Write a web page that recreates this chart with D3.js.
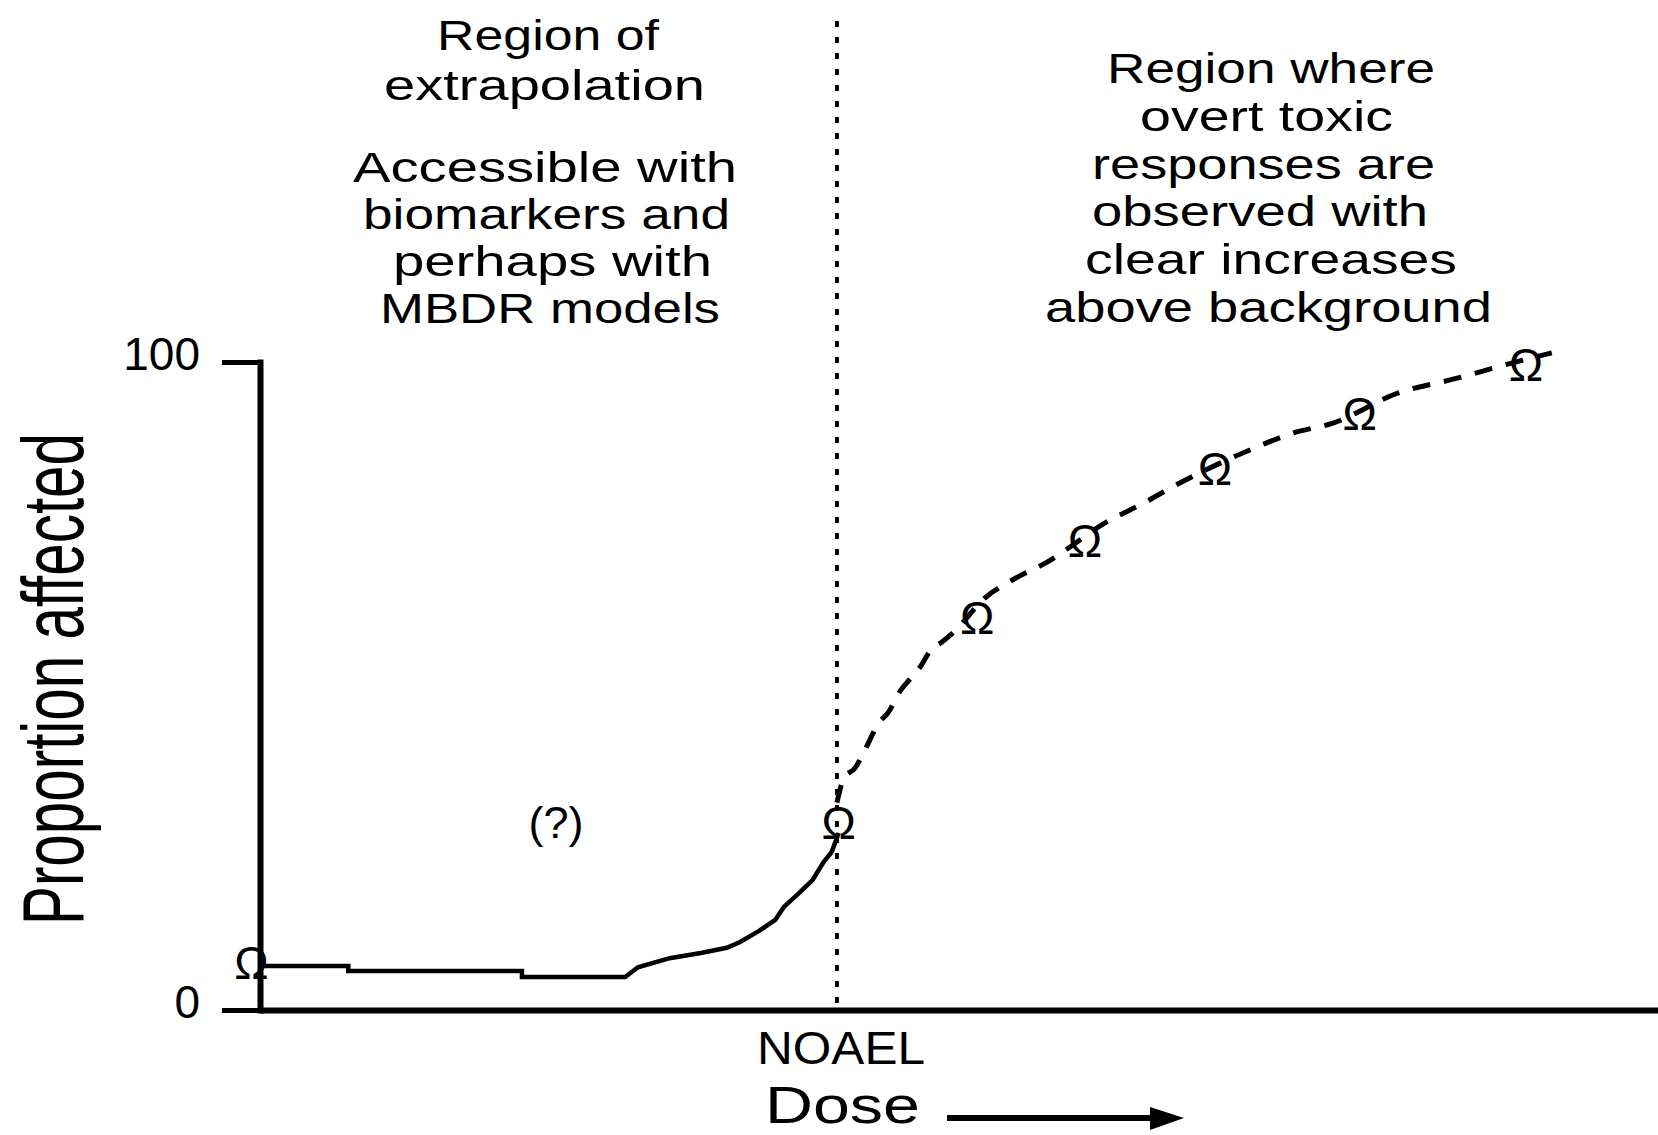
<!DOCTYPE html>
<html>
<head>
<meta charset="utf-8">
<script src="https://cdn.jsdelivr.net/npm/d3@7"></script>
<style>
  html, body { margin: 0; padding: 0; background: #fff; }
  svg { display: block; }
  text { font-family: "Liberation Sans", Arial, sans-serif; fill: #000; }
</style>
</head>
<body>
<script>
// ---------- data ----------
const yTickValues = [0, 100];
const noaelDose = 10;
const doseMax = 24.3;

// extrapolated low-dose curve (solid)
const lowDose = [0.05, 1.53, 1.53, 4.54, 4.54, 6.33, 6.55, 7.10, 7.64, 8.09, 8.32, 8.65, 8.93, 9.08, 9.36, 9.58, 9.76, 9.91, 10.03];
const lowResp = [6.8, 6.8, 6.0, 6.0, 5.1, 5.1, 6.6, 8.0, 8.8, 9.6, 10.5, 12.2, 13.9, 15.9, 18.2, 20.1, 22.7, 24.4, 27.3];

// observed-region curve (dashed)
const highDose = [10.0, 10.12, 10.31, 10.5, 10.73, 10.88, 11.11, 11.25, 11.44, 11.63, 11.82, 12.01, 12.58, 13.05, 13.62, 14.71, 15.29, 15.81, 17.23, 17.89, 18.61, 19.69, 20.75, 21.68, 22.39];
const highResp = [32.0, 35.8, 37.3, 40.4, 44.4, 45.8, 49.4, 50.9, 52.9, 55.6, 56.8, 58.2, 63.7, 66.4, 69.0, 75.5, 78.1, 80.7, 86.7, 89.0, 90.6, 95.1, 97.5, 99.8, 101.4];

// observed data points (Ω markers)
const pointDose = [-0.15, 10.03, 12.43, 14.30, 16.55, 19.06, 21.94];
const pointResp = [7.3, 29.0, 60.6, 72.4, 83.5, 92.0, 99.7];

// text
const leftLines = ["Region of", "extrapolation", "Accessible with", "biomarkers and", "perhaps with", "MBDR models"];
const rightLines = ["Region where", "overt toxic", "responses are", "observed with", "clear increases", "above background"];
const yLabel = "Proportion affected";
const xLabel = "Dose";
const noaelLabel = "NOAEL";
const unknownLabel = "(?)";
const markerSymbol = "\u03A9";

// ---------- drawing ----------
const W = 1658, H = 1135;
const svg = d3.select("body").append("svg").attr("width", W).attr("height", H);

const x = d3.scaleLinear().domain([0, doseMax]).range([260, 1662]);
const y = d3.scaleLinear().domain([0, 100]).range([1010, 362]);

// NOAEL dotted line
svg.append("line")
  .attr("x1", x(noaelDose)).attr("x2", x(noaelDose))
  .attr("y1", 21).attr("y2", y(0))
  .attr("stroke", "#000").attr("stroke-width", 4)
  .attr("stroke-dasharray", "6,10");

// x axis
const xAxis = d3.axisBottom(x).tickValues([]).tickSizeOuter(0);
const gx = svg.append("g").attr("transform", `translate(0,${y(0)})`).call(xAxis);
gx.select(".domain").attr("stroke", "#000").attr("stroke-width", 6);

// y axis
const yAxis = d3.axisLeft(y).tickValues(yTickValues).tickSizeInner(38).tickSizeOuter(0).tickPadding(22)
  .tickFormat(d3.format("d"));
const gy = svg.append("g").attr("transform", `translate(${x(0)},0)`).call(yAxis);
gy.select(".domain").attr("stroke", "#000").attr("stroke-width", 6).attr("stroke-linecap", "square");
gy.selectAll(".tick line").attr("stroke", "#000").attr("stroke-width", 5);
gy.selectAll(".tick text")
  .attr("font-family", "'Liberation Sans', Arial, sans-serif")
  .attr("font-size", 46).attr("dy", "0.17em").attr("fill", "#000");

// NOAEL label
svg.append("text")
  .attr("x", 841).attr("y", 1064)
  .attr("text-anchor", "middle").attr("font-size", 46)
  .attr("textLength", 168).attr("lengthAdjust", "spacingAndGlyphs")
  .text(noaelLabel);

// Dose label + arrow
svg.append("text")
  .attr("x", 842.5).attr("y", 1123)
  .attr("text-anchor", "middle").attr("font-size", 52)
  .attr("textLength", 155).attr("lengthAdjust", "spacingAndGlyphs")
  .text(xLabel);
svg.append("line").attr("x1", 947).attr("x2", 1160).attr("y1", 1118).attr("y2", 1118)
  .attr("stroke", "#000").attr("stroke-width", 6);
svg.append("path").attr("d", "M1150,1107 L1184,1118 L1150,1130 Z").attr("fill", "#000");

// y label
svg.append("text")
  .attr("transform", "translate(83,679) rotate(-90)")
  .attr("text-anchor", "middle").attr("font-size", 88)
  .attr("textLength", 492).attr("lengthAdjust", "spacingAndGlyphs")
  .text(yLabel);

// curves
const lowData = lowDose.map((d, i) => [d, lowResp[i]]);
const highData = highDose.map((d, i) => [d, highResp[i]]);
const line = d3.line().x(d => x(d[0])).y(d => y(d[1]));
svg.append("path").datum(lowData).attr("d", line)
  .attr("fill", "none").attr("stroke", "#000").attr("stroke-width", 4.5);
svg.append("path").datum(highData).attr("d", line.curve(d3.curveMonotoneX))
  .attr("fill", "none").attr("stroke", "#000").attr("stroke-width", 5)
  .attr("stroke-dasharray", "18,14");

// markers
svg.selectAll("text.marker").data(pointDose.map((d, i) => [d, pointResp[i]]))
  .enter().append("text").attr("class", "marker")
  .attr("x", d => x(d[0])).attr("y", d => y(d[1]))
  .attr("dy", "0.36em").attr("text-anchor", "middle")
  .attr("font-size", 46)
  .text(markerSymbol);

// (?) label
svg.append("text")
  .attr("x", 556).attr("y", 838)
  .attr("text-anchor", "middle").attr("font-size", 45)
  .text(unknownLabel);

// annotation blocks
const leftLayout = [[548, 50, 222], [544.5, 100, 321], [545, 182, 384], [546.5, 229, 367], [552.5, 276, 319], [550, 323, 340]];
const rightLayout = [[1271, 83, 328], [1266.5, 131, 253], [1263.5, 179, 343], [1260, 226, 336], [1271, 274, 372], [1268.5, 322, 447]];

function block(lines, layout) {
  svg.append("g").selectAll("text").data(lines).enter().append("text")
    .attr("x", (d, i) => layout[i][0])
    .attr("y", (d, i) => layout[i][1])
    .attr("text-anchor", "middle")
    .attr("font-size", 42)
    .attr("textLength", (d, i) => layout[i][2])
    .attr("lengthAdjust", "spacingAndGlyphs")
    .text(d => d);
}
block(leftLines, leftLayout);
block(rightLines, rightLayout);
</script>
</body>
</html>
